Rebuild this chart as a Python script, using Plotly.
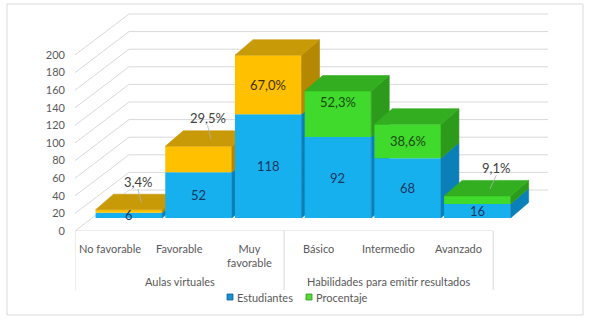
import plotly.graph_objects as go

# ---------------- data ----------------
categories = ["No favorable", "Favorable", "Muy<br>favorable", "Básico", "Intermedio", "Avanzado"]
groups = ["Aulas virtuales", "Habilidades para emitir resultados"]
group_size = [3, 3]
estudiantes = [6, 52, 118, 92, 68, 16]
porcentaje = [3.4, 29.5, 67.0, 52.3, 38.6, 9.1]
y_ticks = [0, 20, 40, 60, 80, 100, 120, 140, 160, 180, 200]
series_names = ["Estudiantes", "Procentaje"]

# ---------------- style / geometry ----------------
W_PX, H_PX = 589, 322
ML, MR, MT, MB = 75, 41, 11, 91
PXX = 69.7                     # px per category unit
PXY = 0.88                     # px per value unit
XMAX = (W_PX - ML - MR) / PXX
YMAX = (H_PX - MT - MB) / PXY

OFF_X, OFF_Y = 19 / PXX, 13 / PXY      # bar front plane shift
BW = 0.955                              # bar width (category units)
DX, DY = 18 / PXX, 15.5 / PXY           # bar depth
WX, WY = 54 / PXX, 41 / PXY             # wall depth

FONT = "Lato, 'Liberation Sans', sans-serif"
GRID = "#d9d9d9"
BLUE = dict(front="#17b0ee", side="#0b7fb8", top="#0e95d0")
YEL = dict(front="#ffc000", side="#b48800", top="#c99a08")
GRN = dict(front="#3fda2b", side="#2c9b1b", top="#33ae20")
upper_colors = [YEL, YEL, YEL, GRN, GRN, GRN]
pct_outside = [True, True, False, False, False, True]
pct_xshift = [0, 0, 0, 0, 0, 10]
pct_yshift = [0, 0, 0, 12, 0, 0]

fig = go.Figure()

# ---- 3D wall gridlines (main subplot) ----
for v in y_ticks:
    fig.add_trace(go.Scatter(
        x=[0, WX, XMAX], y=[v, v + WY, v + WY], mode="lines",
        line=dict(color=GRID, width=1), hoverinfo="skip", showlegend=False))

def poly(xs, ys, color, axis):
    fig.add_trace(go.Scatter(
        x=xs + [xs[0]], y=ys + [ys[0]], mode="lines", fill="toself",
        fillcolor=color, line=dict(color=color, width=0.6),
        xaxis=axis, yaxis="y", hoverinfo="skip", showlegend=False))

annotations = []
for i, (cat, est, pct) in enumerate(zip(categories, estudiantes, porcentaje)):
    ax = "x%d" % (i + 2)
    xc = i + 0.5 + OFF_X
    xl, xr = xc - BW / 2, xc + BW / 2
    segs = [(OFF_Y, est, BLUE, series_names[0]), (OFF_Y + est, pct, upper_colors[i], series_names[1])]
    for b, h, col, name in segs:
        fig.add_trace(go.Bar(
            x=[xc], y=[h], base=[b], width=[BW], name=name,
            marker=dict(color=col["front"], line=dict(width=0)),
            xaxis=ax, yaxis="y", hoverinfo="skip", showlegend=False))
        poly([xr, xr + DX, xr + DX, xr], [b, b + DY, b + h + DY, b + h], col["side"], ax)
    top = OFF_Y + est + pct
    col = upper_colors[i]
    poly([xl, xr, xr + DX, xl + DX], [top, top, top + DY, top + DY], col["top"], ax)

    # value labels
    annotations.append(dict(x=xc, y=OFF_Y + est / 2, xref="x", yref="y",
                            text=str(est), showarrow=False,
                            font=dict(family=FONT, size=13, color="#17375e")))
    ptxt = ("%.1f%%" % pct).replace(".", ",")
    if pct_outside[i]:
        lx = xc + DX / 2
        ly = top + DY + 14
        annotations.append(dict(x=lx, y=ly, xref="x", yref="y", text=ptxt,
                                showarrow=False, xshift=pct_xshift[i],
                                font=dict(family=FONT, size=13, color="#404040")))
        fig.add_trace(go.Scatter(
            x=[lx + pct_xshift[i] / PXX, xc + DX * 0.7],
            y=[ly - 7 / PXY, top + DY * 0.45], mode="lines",
            line=dict(color="#b0b0b0", width=0.8), xaxis=ax, yaxis="y",
            hoverinfo="skip", showlegend=False))
    else:
        tcol = "#3f3000" if col is YEL else "#1d4a10"
        annotations.append(dict(x=xc, y=OFF_Y + est + pct / 2, xref="x", yref="y",
                                text=ptxt, showarrow=False, yshift=pct_yshift[i],
                                font=dict(family=FONT, size=13, color=tcol)))

# ---- category axis (two-level) ----
def py(pix):
    return (H_PX - MB - pix) / (H_PX - MT - MB)

def px(pix):
    return (pix - ML) / (W_PX - ML - MR)

for i, cat in enumerate(categories):
    annotations.append(dict(x=i + 0.5, y=py(240), xref="x", yref="paper", text=cat,
                            showarrow=False, yanchor="top",
                            font=dict(family=FONT, size=11, color="#595959")))
shapes = []
start = 0
n_total = sum(group_size)
shapes.append(dict(type="line", xref="x", yref="y", x0=0, x1=n_total, y0=0, y1=0,
                   line=dict(color=GRID, width=1)))
shapes.append(dict(type="line", xref="x", yref="paper", x0=0, x1=0, y0=0, y1=py(290),
                   line=dict(color=GRID, width=1)))
for g, n in zip(groups, group_size):
    annotations.append(dict(x=start + n / 2, y=py(281), xref="x", yref="paper", text=g,
                            showarrow=False, yanchor="middle",
                            font=dict(family=FONT, size=11, color="#595959")))
    start += n
    shapes.append(dict(type="line", xref="x", yref="paper", x0=start, x1=start,
                       y0=0, y1=py(290), line=dict(color=GRID, width=1)))

# ---- legend (custom) ----
leg = [(series_names[0], 227, "#1a8fd4", "#0b5f96"), (series_names[1], 306, "#55d83c", "#2c9b1b")]
for name, x0, c, lc in leg:
    shapes.append(dict(type="rect", xref="paper", yref="paper",
                       x0=px(x0), x1=px(x0 + 6), y0=py(300), y1=py(294),
                       fillcolor=c, line=dict(color=lc, width=0.8)))
    annotations.append(dict(x=px(x0 + 8), y=py(297.5), xref="paper", yref="paper", text=name,
                            showarrow=False, xanchor="left", yanchor="middle",
                            font=dict(family=FONT, size=11, color="#595959")))

# ---- outer chart border ----
shapes.append(dict(type="rect", xref="paper", yref="paper",
                   x0=px(7), x1=px(583), y0=py(315), y1=py(4),
                   line=dict(color=GRID, width=1), fillcolor="rgba(0,0,0,0)", layer="below"))

layout = dict(
    width=W_PX, height=H_PX,
    margin=dict(l=ML, r=MR, t=MT, b=MB, autoexpand=False),
    paper_bgcolor="white", plot_bgcolor="white",
    barmode="overlay", showlegend=False,
    xaxis=dict(range=[0, XMAX], visible=False, fixedrange=True),
    yaxis=dict(range=[0, YMAX], tickvals=y_ticks, ticktext=[str(v) for v in y_ticks],
               showgrid=False, zeroline=False, showline=False, ticks="",
               ticklabelstandoff=9, automargin=False,
               tickfont=dict(family=FONT, size=11, color="#595959")),
    annotations=annotations, shapes=shapes,
)
for i in range(len(categories)):
    layout["xaxis%d" % (i + 2)] = dict(range=[0, XMAX], overlaying="x", anchor="y",
                                       visible=False, fixedrange=True)
fig.update_layout(**layout)
fig.write_html("out.html")
